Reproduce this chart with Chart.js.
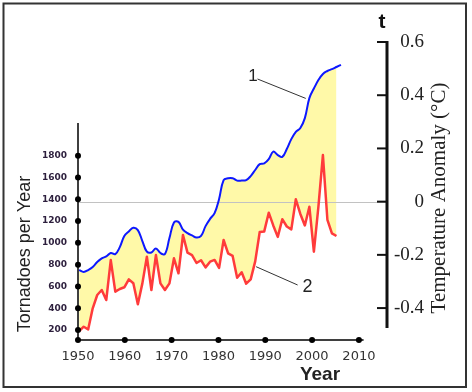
<!DOCTYPE html>
<html>
<head>
<meta charset="utf-8">
<script src="https://cdn.jsdelivr.net/npm/chart.js@4.4.1/dist/chart.umd.min.js"></script>
<style>
html, body { margin: 0; padding: 0; background: #fff; }
#c { display: block; }
</style>
</head>
<body>
<canvas id="c" width="472" height="392"></canvas>
<script>
// Curve 2: tornadoes per year (left axis)
const tornadoYears = [
  1950, 1951, 1952, 1953, 1954, 1955, 1956, 1957, 1958, 1959,
  1960, 1961, 1962, 1963, 1964, 1965, 1966, 1967, 1968, 1969,
  1970, 1971, 1972, 1973, 1974, 1975, 1976, 1977, 1978, 1979,
  1980, 1981, 1982, 1983, 1984, 1985, 1986, 1987, 1988, 1989,
  1990, 1991, 1992, 1993, 1994, 1995, 1996, 1997, 1998, 1999,
  2000, 2001, 2002, 2003, 2004, 2005, 2006, 2007
];
const tornadoCounts = [
  190, 230, 206, 399, 521, 567, 475, 842, 552, 576,
  592, 665, 629, 436, 628, 873, 567, 888, 628, 567,
  628, 858, 720, 1072, 910, 888, 815, 840, 775, 827,
  843, 770, 1026, 904, 880, 680, 730, 625, 665, 830,
  1100, 1105, 1277, 1160, 1055, 1217, 1150, 1124, 1400, 1265,
  1160, 1332, 919, 1330, 1806, 1210, 1087, 1063
];

// Curve 1: temperature anomaly, smoothed (right axis)
const tempYears = [
  1950, 1951, 1952, 1953, 1954, 1955, 1956, 1957, 1958, 1959,
  1960, 1961, 1962, 1963, 1964, 1965, 1966, 1967, 1968, 1969,
  1970, 1971, 1972, 1973, 1974, 1975, 1976, 1977, 1978, 1979,
  1980, 1981, 1982, 1983, 1984, 1985, 1986, 1987, 1988, 1989,
  1990, 1991, 1992, 1993, 1994, 1995, 1996, 1997, 1998, 1999,
  2000, 2001, 2002, 2003, 2004, 2005, 2006, 2007, 2008
];
const tempAnomaly = [
  -0.257, -0.264, -0.257, -0.246, -0.227, -0.213, -0.206, -0.193, -0.197, -0.171,
  -0.129, -0.112, -0.098, -0.107, -0.148, -0.188, -0.191, -0.176, -0.193, -0.197,
  -0.137, -0.078, -0.076, -0.105, -0.118, -0.127, -0.135, -0.129, -0.092, -0.065,
  -0.043, 0.010, 0.081, 0.088, 0.088, 0.079, 0.079, 0.081, 0.096, 0.119,
  0.141, 0.144, 0.160, 0.188, 0.175, 0.168, 0.198, 0.235, 0.262, 0.277,
  0.314, 0.389, 0.425, 0.457, 0.480, 0.491, 0.498, 0.506, 0.514
];

// Axis ticks
const yearTicks = [1950, 1960, 1970, 1980, 1990, 2000, 2010];
const tornadoTicks = [200, 400, 600, 800, 1000, 1200, 1400, 1600, 1800];
const tempTicks = [0.6, 0.4, 0.2, 0, -0.2, -0.4];
const tempTickLabels = ['0.6', '0.4', '0.2', '0', '-0.2', '-0.4'];

const BLUE = '#0d18ff';
const RED = '#ff3b3b';
const FILL = '#fff9a8';

// extra drawing: axis lines, dots, titles, callouts
const decor = {
  id: 'decor',
  beforeDatasetsDraw(chart) {
    const { ctx, chartArea: a, scales } = chart;
    const y0 = Math.round(scales.yR.getPixelForValue(0)) + 0.5;
    ctx.save();
    ctx.strokeStyle = '#c2c2c2';
    ctx.lineWidth = 1;
    ctx.beginPath();
    ctx.moveTo(a.left, y0);
    ctx.lineTo(a.right, y0);
    ctx.stroke();
    ctx.restore();
  },
  afterDraw(chart) {
    const { ctx, chartArea: a, scales } = chart;
    const xs = scales.x, xd = scales.xd, yL = scales.yL, yR = scales.yR;
    ctx.save();

    // frame
    ctx.strokeStyle = '#333';
    ctx.lineWidth = 2;
    ctx.strokeRect(3.5, 3.5, 462.5, 383.5);

    // left axis + x axis
    ctx.strokeStyle = '#000';
    ctx.lineWidth = 1.5;
    ctx.beginPath();
    ctx.moveTo(a.left, yL.getPixelForValue(2100));
    ctx.lineTo(a.left, a.bottom);
    ctx.lineTo(xs.getPixelForValue(2011), a.bottom);
    ctx.stroke();

    ctx.fillStyle = '#000';
    tornadoTicks.forEach(v => {
      ctx.beginPath();
      ctx.arc(a.left, yL.getPixelForValue(v), 3, 0, Math.PI * 2);
      ctx.fill();
    });
    yearTicks.forEach(v => {
      ctx.beginPath();
      ctx.arc(xs.getPixelForValue(v), a.bottom, 3, 0, Math.PI * 2);
      ctx.fill();
    });

    // right axis
    ctx.strokeStyle = '#111';
    ctx.lineWidth = 3;
    ctx.beginPath();
    ctx.moveTo(a.right, yR.getPixelForValue(0.6) - 1);
    ctx.lineTo(a.right, yR.getPixelForValue(-0.475));
    ctx.stroke();
    ctx.lineWidth = 2;
    tempTicks.forEach(t => {
      const y = yR.getPixelForValue(t);
      ctx.beginPath();
      ctx.moveTo(a.right - 10, y);
      ctx.lineTo(a.right, y);
      ctx.stroke();
    });
    ctx.fillStyle = '#222';
    ctx.font = '19px "Liberation Serif"';
    ctx.textAlign = 'right';
    ctx.textBaseline = 'middle';
    tempTicks.forEach((t, i) => {
      ctx.fillText(tempTickLabels[i], a.right + 37, yR.getPixelForValue(t));
    });

    // "t" label over right axis
    ctx.font = 'bold 21px "Liberation Sans"';
    ctx.textAlign = 'center';
    ctx.fillStyle = '#111';
    ctx.fillText('t', 382, 22);

    // axis titles
    ctx.fillStyle = '#222';
    ctx.save();
    ctx.translate(439, 198);
    ctx.rotate(-Math.PI / 2);
    ctx.font = '21px "Liberation Serif"';
    ctx.fillText('Temperature Anomaly (°C)', 0, 0);
    ctx.restore();

    ctx.save();
    ctx.translate(25, 254);
    ctx.rotate(-Math.PI / 2);
    ctx.font = '18px "Liberation Sans"';
    ctx.fillText('Tornadoes per Year', 0, 0);
    ctx.restore();

    ctx.font = 'bold 19px "Liberation Sans"';
    ctx.fillText('Year', 320, 375);

    // callouts 1 and 2
    ctx.strokeStyle = '#333';
    ctx.lineWidth = 1;
    ctx.beginPath();
    ctx.moveTo(xd.getPixelForValue(1989.5), yR.getPixelForValue(0.461));
    ctx.lineTo(xd.getPixelForValue(2000.2), yR.getPixelForValue(0.388));
    ctx.moveTo(xd.getPixelForValue(1989.2), yL.getPixelForValue(781));
    ctx.lineTo(xd.getPixelForValue(1998.4), yL.getPixelForValue(613));
    ctx.stroke();
    ctx.fillStyle = '#222';
    ctx.font = '17px "Liberation Sans"';
    ctx.fillText('1', xd.getPixelForValue(1988.5), yR.getPixelForValue(0.472));
    ctx.font = '18px "Liberation Sans"';
    ctx.fillText('2', xd.getPixelForValue(2000.6), yL.getPixelForValue(597));

    ctx.restore();
  }
};

new Chart(document.getElementById('c'), {
  type: 'line',
  data: {
    datasets: [{
      label: 'Tornadoes',
      data: tornadoYears.map((yr, i) => ({ x: yr, y: tornadoCounts[i] })),
      xAxisID: 'xd',
      yAxisID: 'yL',
      borderColor: RED,
      borderWidth: 2.5,
      borderJoinStyle: 'round',
      pointRadius: 0,
      tension: 0,
      fill: false
    }, {
      label: 'Temperature',
      data: tempYears.map((yr, i) => ({ x: yr, y: tempAnomaly[i] })),
      xAxisID: 'xd',
      yAxisID: 'yR',
      borderColor: BLUE,
      borderWidth: 2,
      backgroundColor: FILL,
      pointRadius: 0,
      tension: 0.4,
      fill: { target: 0 }
    }]
  },
  options: {
    responsive: false,
    devicePixelRatio: 1,
    animation: false,
    layout: { padding: { top: 42, left: 0, right: 0, bottom: 0 } },
    plugins: {
      legend: { display: false },
      tooltip: { enabled: false },
      filler: { drawTime: 'beforeDatasetsDraw' }
    },
    scales: {
      x: {
        type: 'linear',
        position: 'bottom',
        min: 1950,
        max: 2016,
        afterBuildTicks: s => { s.ticks = yearTicks.map(v => ({ value: v })); },
        afterFit: s => { s.height = 52; },
        grid: { display: false, drawTicks: false },
        border: { display: false },
        ticks: {
          padding: 9,
          color: '#333',
          font: { family: 'DejaVu Sans', size: 13 },
          maxRotation: 0,
          callback: v => String(v)
        }
      },
      xd: {
        type: 'linear',
        display: false,
        min: 1949.74,
        max: 2018.2
      },
      yL: {
        type: 'linear',
        position: 'left',
        min: 108,
        max: 2844,
        afterBuildTicks: s => { s.ticks = tornadoTicks.map(v => ({ value: v })); },
        afterFit: s => { s.width = 78; },
        grid: { display: false, drawTicks: false },
        border: { display: false },
        ticks: {
          padding: 11,
          color: '#2d1f3d',
          font: { family: 'DejaVu Sans', size: 9, weight: 'bold' },
          callback: v => String(v)
        }
      },
      yR: {
        type: 'linear',
        position: 'right',
        min: -0.52,
        max: 0.6,
        afterFit: s => { s.width = 85; },
        grid: { display: false, drawTicks: false },
        border: { display: false },
        ticks: { display: false }
      }
    }
  },
  plugins: [decor]
});
</script>
</body>
</html>
